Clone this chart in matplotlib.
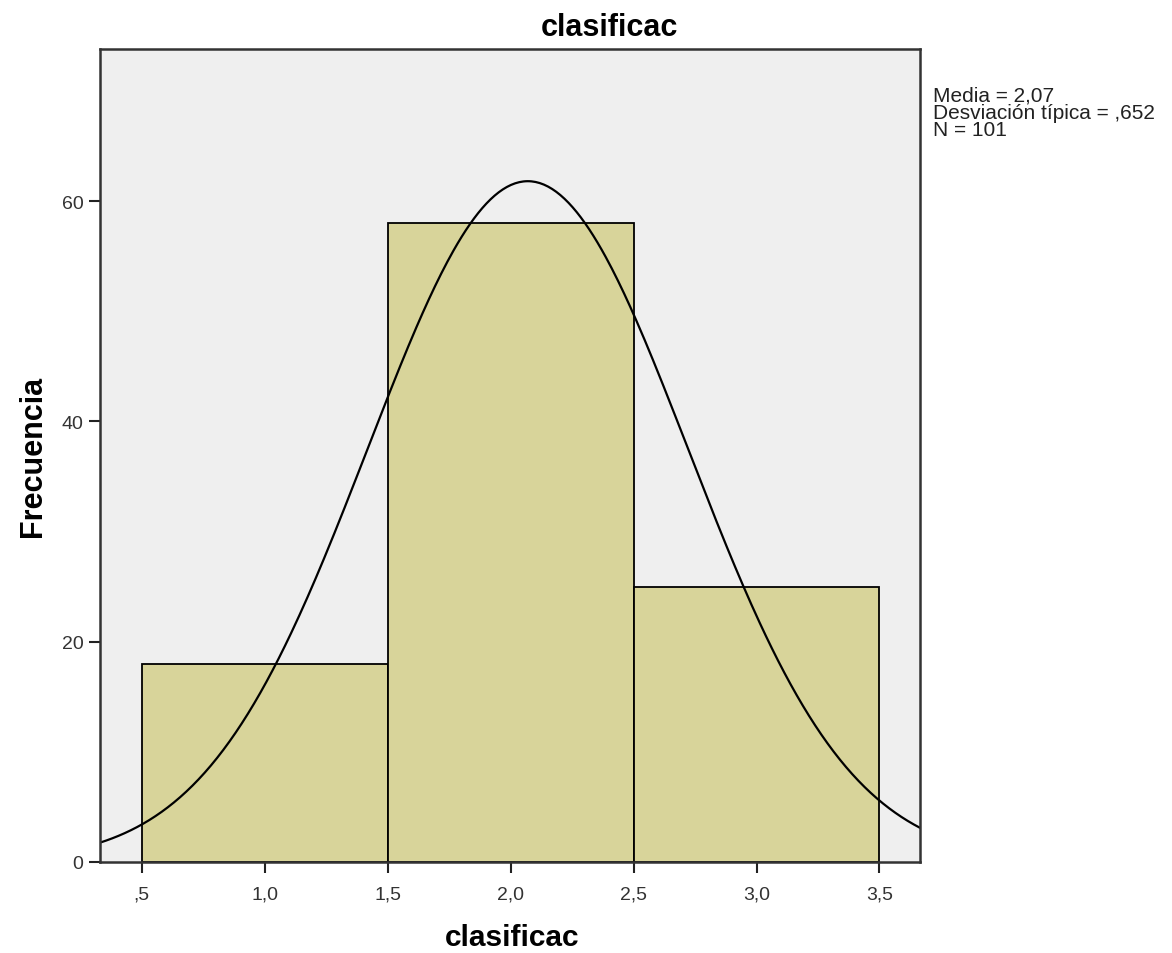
import numpy as np
import matplotlib.pyplot as plt

plt.rcParams['font.family'] = ['Liberation Sans', 'DejaVu Sans']

# histogram bins and counts
bin_edges = [0.5, 1.5, 2.5, 3.5]
counts = [18, 58, 25]

# fitted normal from the stats box
media = 2.07
desv = 0.652
n = 101

xticks = [0.5, 1.0, 1.5, 2.0, 2.5, 3.0, 3.5]
xtick_labels = [",5", "1,0", "1,5", "2,0", "2,5", "3,0", "3,5"]
yticks = [0, 20, 40, 60]

fig = plt.figure(figsize=(11.72, 9.54), dpi=100)
ax = fig.add_axes([0.0853, 0.0954, 0.6997, 0.8522])
ax.set_facecolor("#efefef")

widths = np.diff(bin_edges)
ax.bar(bin_edges[:-1], counts, width=widths, align="edge",
       color="#d8d49a", edgecolor="black", linewidth=1.3)

xs = np.linspace(0.33, 3.665, 400)
binw = widths[0]
ys = n * binw / (desv * np.sqrt(2 * np.pi)) * np.exp(-0.5 * ((xs - media) / desv) ** 2)
ax.plot(xs, ys, color="black", linewidth=1.6)

ax.set_xlim(0.33, 3.665)
ax.set_ylim(0, 73.8)
ax.set_xticks(xticks)
ax.set_xticklabels(xtick_labels)
ax.set_yticks(yticks)
ax.tick_params(labelsize=14, length=8, width=1.5, color="#222222",
               labelcolor="#333333")
ax.tick_params(axis="x", pad=9)
ax.tick_params(axis="y", pad=4)
for s in ax.spines.values():
    s.set_linewidth(1.8)
    s.set_color("#333333")

fig.text(0.52, 0.971, "clasificac", fontsize=22, fontweight="bold",
         ha="center", va="center")
fig.text(0.437, 0.017, "clasificac", fontsize=21.5, fontweight="bold",
         ha="center", va="center")
ax.set_ylabel("Frecuencia", fontsize=22, fontweight="bold", labelpad=10)

fig.text(0.796, 0.909, "Media = 2,07\nDesviación típica = ,652\nN = 101",
         fontsize=15, va="top", ha="left", linespacing=0.86, color="#222222")

plt.savefig("out.png")
